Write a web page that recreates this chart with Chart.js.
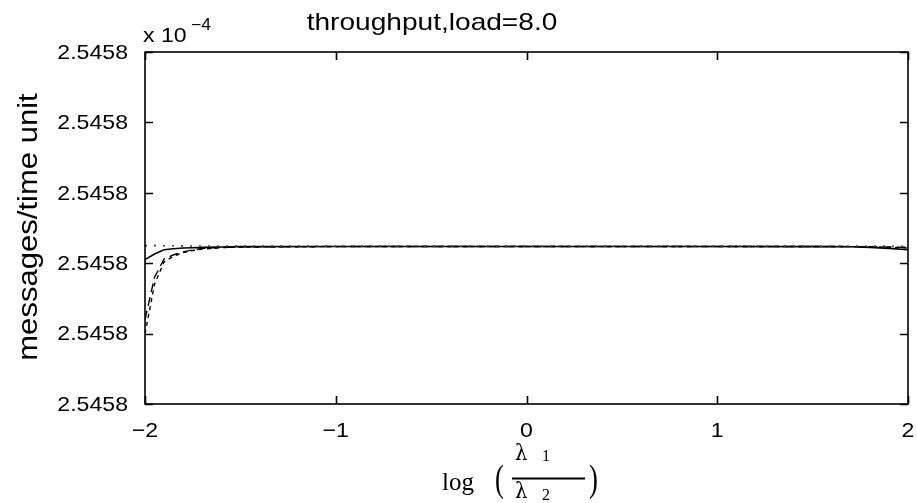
<!DOCTYPE html>
<html>
<head>
<meta charset="utf-8">
<script src="https://cdn.jsdelivr.net/npm/chart.js@4/dist/chart.umd.min.js"></script>
<style>
  body { margin: 0; background: #fff; }
</style>
</head>
<body>
<canvas id="chart" width="917" height="503"></canvas>
<script>
// x positions: log(lambda1/lambda2)
const xs = [-2, -1.95, -1.9, -1.85, -1.8, -1.75, -1.7, -1.6, -1.5, -1, -0.5, 0, 0.5, 1, 1.5, 1.7, 1.8, 1.9, 2];

// throughput curves (axis units: 0 = bottom tick, 5 = top tick)
const solidSeries  = [2.05, 2.13, 2.19, 2.205, 2.215, 2.22, 2.225, 2.23, 2.235, 2.237, 2.237, 2.237, 2.237, 2.237, 2.236, 2.233, 2.225, 2.21, 2.19];
const dashSeries   = [1.2, 1.8, 2.06, 2.12, 2.16, 2.19, 2.21, 2.225, 2.233, 2.237, 2.237, 2.237, 2.237, 2.237, 2.237, 2.236, 2.234, 2.23, 2.225];
const shortDash    = [1.0, 1.7, 2.02, 2.1, 2.15, 2.18, 2.2, 2.22, 2.23, 2.236, 2.237, 2.237, 2.237, 2.237, 2.237, 2.236, 2.233, 2.225, 2.215];
const dottedSeries = [2.25, 2.25, 2.248, 2.247, 2.246, 2.245, 2.245, 2.244, 2.244, 2.243, 2.243, 2.243, 2.243, 2.243, 2.243, 2.243, 2.242, 2.242, 2.24];

const xTickValues = [-2, -1, 0, 1, 2];
const xTickLabels = ['\u22122', '\u22121', '0', '1', '2'];
const yTickValues = [0, 1, 2, 3, 4, 5];
const yTickLabels = ['2.5458', '2.5458', '2.5458', '2.5458', '2.5458', '2.5458'];

const titleText = 'throughput,load=8.0';
const yTitle = 'messages/time unit';

function toPoints(ys) {
    return xs.map((x, i) => ({ x: x, y: ys[i] }));
}

// text stretched along its writing direction (the original fonts are wider)
function wideText(ctx, text, x, y, sx, align, baseline) {
    ctx.save();
    ctx.translate(x, y);
    ctx.scale(sx, 1);
    ctx.textAlign = align;
    ctx.textBaseline = baseline || 'alphabetic';
    ctx.fillText(text, 0, 0);
    ctx.restore();
}

const framePlugin = {
    id: 'frame',
    afterDraw(chart) {
        const ctx = chart.ctx;
        const a = chart.chartArea;
        const xs_ = chart.scales.x;
        const ys_ = chart.scales.y;
        ctx.save();
        ctx.strokeStyle = '#000';
        ctx.fillStyle = '#000';
        ctx.lineWidth = 1.6;
        ctx.strokeRect(a.left, a.top, a.right - a.left, a.bottom - a.top);

        // inward ticks on all four sides
        const tl = 8;
        ctx.beginPath();
        xTickValues.forEach(v => {
            const px = Math.round(xs_.getPixelForValue(v)) + 0.5;
            ctx.moveTo(px, a.bottom); ctx.lineTo(px, a.bottom - tl);
            ctx.moveTo(px, a.top); ctx.lineTo(px, a.top + tl);
        });
        yTickValues.forEach(v => {
            const py = Math.round(ys_.getPixelForValue(v)) + 0.5;
            ctx.moveTo(a.left, py); ctx.lineTo(a.left + tl, py);
            ctx.moveTo(a.right, py); ctx.lineTo(a.right - tl, py);
        });
        ctx.stroke();

        // tick labels
        ctx.font = '21px "Liberation Sans", Arial, sans-serif';
        xTickValues.forEach((v, i) => {
            wideText(ctx, xTickLabels[i], xs_.getPixelForValue(v), 437, 1.1, 'center');
        });
        yTickValues.forEach((v, i) => {
            wideText(ctx, yTickLabels[i], 128, ys_.getPixelForValue(v) + 1, 1.1, 'right', 'middle');
        });

        // multiplier
        ctx.font = '21px "Liberation Sans", Arial, sans-serif';
        wideText(ctx, 'x 10', 143, 42, 1.1, 'left');
        ctx.font = '16px "Liberation Sans", Arial, sans-serif';
        wideText(ctx, '\u22124', 191, 30, 1.1, 'left');

        // title
        ctx.font = '24px "Liberation Sans", Arial, sans-serif';
        wideText(ctx, titleText, 432, 30, 1.17, 'center');

        // y axis title
        ctx.save();
        ctx.translate(37, 227);
        ctx.rotate(-Math.PI / 2);
        ctx.font = '27px "Liberation Sans", Arial, sans-serif';
        wideText(ctx, yTitle, 0, 0, 1.15, 'center');
        ctx.restore();

        // x axis title: log ( lambda1 / lambda2 )
        ctx.font = '25px "Liberation Serif", "DejaVu Serif", serif';
        wideText(ctx, 'log', 442, 490, 1.0, 'left');
        ctx.font = '38px "Liberation Serif", "DejaVu Serif", serif';
        wideText(ctx, '(', 495, 491, 0.7, 'left');
        wideText(ctx, ')', 589, 491, 0.7, 'left');
        ctx.lineWidth = 1.8;
        ctx.beginPath();
        ctx.moveTo(512, 478.5); ctx.lineTo(585, 478.5);
        ctx.stroke();
        ctx.font = '23px "DejaVu Serif", "Liberation Serif", serif';
        wideText(ctx, '\u03bb', 515, 460, 0.85, 'left');
        wideText(ctx, '\u03bb', 515, 498, 0.85, 'left');
        ctx.font = '16px "Liberation Serif", "DejaVu Serif", serif';
        wideText(ctx, '1', 542, 461, 1.0, 'left');
        wideText(ctx, '2', 542, 500, 1.0, 'left');
        ctx.restore();
    }
};

const lineDefaults = { pointRadius: 0, tension: 0, fill: false, borderColor: '#000' };

new Chart(document.getElementById('chart').getContext('2d'), {
    type: 'line',
    data: {
        datasets: [
            { ...lineDefaults, label: 'a', data: toPoints(dottedSeries), borderWidth: 1.6, borderDash: [2, 7], borderColor: '#444' },
            { ...lineDefaults, label: 'b', data: toPoints(shortDash), borderWidth: 1.4, borderDash: [4, 4] },
            { ...lineDefaults, label: 'c', data: toPoints(dashSeries), borderWidth: 1.4, borderDash: [9, 5] },
            { ...lineDefaults, label: 'd', data: toPoints(solidSeries), borderWidth: 1.6 }
        ]
    },
    options: {
        responsive: false,
        animation: false,
        layout: { padding: { left: 0, right: 9, top: 52, bottom: 0 } },
        plugins: {
            legend: { display: false },
            tooltip: { enabled: false },
            title: { display: false }
        },
        scales: {
            x: {
                type: 'linear',
                min: -2,
                max: 2,
                grid: { display: false },
                border: { display: false },
                ticks: { display: false, stepSize: 1 },
                afterFit: (s) => { s.height = 99; }
            },
            y: {
                type: 'linear',
                min: 0,
                max: 5,
                grid: { display: false },
                border: { display: false },
                ticks: { display: false, stepSize: 1 },
                afterFit: (s) => { s.width = 145; }
            }
        }
    },
    plugins: [framePlugin]
});
</script>
</body>
</html>
